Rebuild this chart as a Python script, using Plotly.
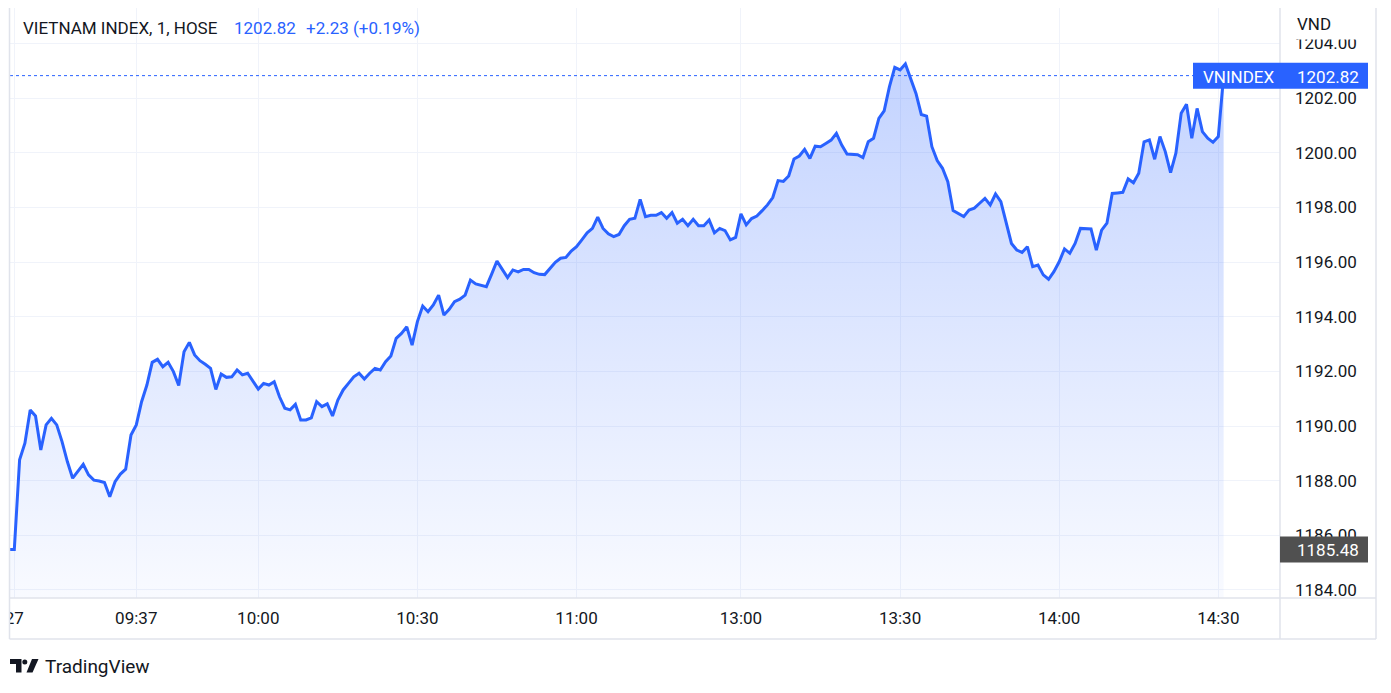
import plotly.graph_objects as go

# ---------------- data ----------------
title_text = "VIETNAM INDEX, 1, HOSE"
symbol = "VNINDEX"
currency = "VND"
last_value = 1202.82
change_text = "+2.23 (+0.19%)"
open_marker = 1185.48

bars = list(range(-2, 228))  # 1-minute bar index (0 = 09:15)
values = [
    1185.48, 1185.48, 1188.76, 1189.37, 1190.59, 1190.37, 1189.12, 1190.04, 1190.28, 1190.04,
    1189.43, 1188.70, 1188.09, 1188.33, 1188.60, 1188.21, 1188.02, 1187.99, 1187.93, 1187.41,
    1187.96, 1188.24, 1188.42, 1189.67, 1190.04, 1190.89, 1191.50, 1192.33, 1192.44, 1192.17,
    1192.33, 1191.99, 1191.48, 1192.72, 1193.06, 1192.60, 1192.39, 1192.26, 1192.11, 1191.34,
    1191.90, 1191.78, 1191.80, 1192.05, 1191.87, 1191.93, 1191.62, 1191.35, 1191.56, 1191.50,
    1191.62, 1191.07, 1190.65, 1190.59, 1190.79, 1190.22, 1190.22, 1190.30, 1190.89, 1190.71,
    1190.81, 1190.37, 1190.95, 1191.32, 1191.56, 1191.80, 1191.93, 1191.72, 1191.93, 1192.11,
    1192.05, 1192.35, 1192.56, 1193.21, 1193.39, 1193.63, 1192.96, 1193.82, 1194.39, 1194.18,
    1194.43, 1194.79, 1194.06, 1194.27, 1194.55, 1194.64, 1194.79, 1195.34, 1195.20, 1195.15,
    1195.10, 1195.56, 1196.04, 1195.73, 1195.43, 1195.71, 1195.64, 1195.73, 1195.73, 1195.61,
    1195.55, 1195.54, 1195.77, 1195.99, 1196.14, 1196.17, 1196.40, 1196.56, 1196.81, 1197.07,
    1197.23, 1197.64, 1197.23, 1197.03, 1196.93, 1197.01, 1197.33, 1197.56, 1197.60, 1198.29,
    1197.66, 1197.71, 1197.71, 1197.81, 1197.60, 1197.81, 1197.42, 1197.56, 1197.33, 1197.56,
    1197.33, 1197.33, 1197.54, 1197.07, 1197.23, 1197.15, 1196.81, 1196.90, 1197.76, 1197.36,
    1197.59, 1197.68, 1197.88, 1198.09, 1198.36, 1198.98, 1198.95, 1199.15, 1199.77, 1199.88,
    1200.12, 1199.79, 1200.24, 1200.22, 1200.34, 1200.46, 1200.71, 1200.28, 1199.95, 1199.94,
    1199.93, 1199.82, 1200.40, 1200.53, 1201.26, 1201.53, 1202.42, 1203.12, 1203.03, 1203.25,
    1202.72, 1202.17, 1201.40, 1201.34, 1200.22, 1199.71, 1199.43, 1198.94, 1197.88, 1197.78,
    1197.66, 1197.90, 1197.97, 1198.15, 1198.33, 1198.09, 1198.49, 1198.21, 1197.42, 1196.68,
    1196.44, 1196.35, 1196.56, 1195.83, 1195.89, 1195.53, 1195.37, 1195.65, 1196.01, 1196.48,
    1196.32, 1196.68, 1197.23, 1197.22, 1197.21, 1196.44, 1197.17, 1197.42, 1198.51, 1198.53,
    1198.55, 1199.04, 1198.90, 1199.25, 1200.40, 1200.47, 1199.76, 1200.59, 1200.04, 1199.27,
    1199.98, 1201.44, 1201.77, 1200.53, 1201.62, 1200.77, 1200.53, 1200.38, 1200.59, 1202.82,
]

tick_bars = [-1, 22, 45, 75, 105, 136, 166, 196, 226]
tick_labels = ["27", "09:37", "10:00", "10:30", "11:00", "13:00", "13:30", "14:00", "14:30"]
y_ticks = [1184, 1186, 1188, 1190, 1192, 1194, 1196, 1198, 1200, 1202, 1204]

# ---------------- layout geometry (screen pixels) ----------------
OFF = 8                      # page body margin
W, H = 1391 - OFF, 693 - OFF  # figure size
L, R, T, B = 10, 1280, 8, 598  # plot area in screen pixels
X_RANGE = [-1.81, 237.63]
Y_RANGE = [1183.707, 1205.295]
PX_PER_UNIT = (B - T) / (Y_RANGE[1] - Y_RANGE[0])

BLUE = "#2962FF"
TEXT = "#131722"
GRID = "#f0f3fa"
BORDER = "#e0e3eb"
FONT = "Roboto"


def px(x):
    return (x - L) / (R - L)


def py(y):
    return (B - y) / (B - T)


fig = go.Figure()
fig.add_trace(go.Scatter(
    x=bars, y=values, mode="lines",
    line=dict(color=BLUE, width=3),
    fill="tozeroy",
    fillgradient=dict(
        type="vertical", start=Y_RANGE[0], stop=max(values),
        colorscale=[[0, "rgba(41,98,255,0.03)"], [1, "rgba(41,98,255,0.28)"]],
    ),
    hoverinfo="skip", showlegend=False,
))

shapes = []
# price line (dotted) at last value
shapes.append(dict(type="line", xref="paper", yref="y", x0=0, x1=px(1193),
                   y0=last_value, y1=last_value, line=dict(color=BLUE, width=1, dash="dot"),
                   layer="above"))
# cover top of price scale (header zone)
shapes.append(dict(type="rect", xref="paper", yref="paper", x0=px(1281), x1=px(1375.5),
                   y0=py(39.5), y1=py(8), fillcolor="white", line=dict(width=0), layer="above"))
# cover left of time axis
shapes.append(dict(type="rect", xref="paper", yref="paper", x0=px(OFF), x1=px(9.5),
                   y0=py(640), y1=py(598), fillcolor="white", line=dict(width=0), layer="above"))
# frame lines
frame = [
    (9.5, 639, 1376, 639), (9.5, 8, 9.5, 639), (1376, 8, 1376, 639),
    (1280, 8, 1280, 639), (9.5, 598, 1376, 598),
]
for x0, y0, x1, y1 in frame:
    shapes.append(dict(type="line", xref="paper", yref="paper", x0=px(x0), x1=px(x1),
                       y0=py(y0), y1=py(y1), line=dict(color=BORDER, width=1.5), layer="above"))
# blue last-value label
half = 13 / PX_PER_UNIT
shapes.append(dict(type="rect", xref="paper", yref="y", x0=px(1193), x1=px(1368),
                   y0=last_value - half, y1=last_value + half, fillcolor=BLUE,
                   line=dict(width=0), layer="above"))
# grey marker label
shapes.append(dict(type="rect", xref="paper", yref="y", x0=px(1280), x1=px(1368),
                   y0=open_marker - half, y1=open_marker + half, fillcolor="#505050",
                   line=dict(width=0), layer="above"))
# TradingView logo (simple geometric glyph)
logo_paths = [
    "M {a},{b} L {c},{b} L {c},{d} L {e},{d} L {e},{f} L {a},{f} Z".format(
        a=px(10), b=py(659), c=px(21.5), d=py(672.5), e=px(16), f=py(664)),
    "M {a},{b} L {c},{b} L {d},{e} L {f},{e} Z".format(
        a=px(32), b=py(659), c=px(38.5), d=px(32.5), e=py(672.5), f=px(26.5)),
]
for p in logo_paths:
    shapes.append(dict(type="path", xref="paper", yref="paper", path=p,
                       fillcolor=TEXT, line=dict(width=0), layer="above"))
shapes.append(dict(type="circle", xref="paper", yref="paper", x0=px(22.3), x1=px(27.3),
                   y0=py(664.5), y1=py(659.5), fillcolor=TEXT, line=dict(width=0), layer="above"))

annotations = [
    dict(x=px(21), y=py(28), text=title_text, font=dict(size=17, color=TEXT, family=FONT)),
    dict(x=px(232), y=py(28), text=f"{last_value:.2f}", font=dict(size=17, color=BLUE, family=FONT)),
    dict(x=px(304), y=py(28), text=change_text, font=dict(size=17, color=BLUE, family=FONT)),
    dict(x=px(1295), y=py(24), text=currency, font=dict(size=17, color=TEXT, family=FONT)),
    dict(x=px(1201), y=py(76.5), text=symbol, font=dict(size=17, color="white", family=FONT)),
    dict(x=px(1295), y=py(76.5), text=f"{last_value:.2f}", font=dict(size=17, color="white", family=FONT)),
    dict(x=px(1295), y=py(549.5), text=f"{open_marker:.2f}", font=dict(size=17, color="white", family=FONT)),
    dict(x=px(43), y=py(666), text="TradingView", font=dict(size=19, color=TEXT, family=FONT)),
]
for a in annotations:
    a.update(xref="paper", yref="paper", xanchor="left", yanchor="middle", showarrow=False)

fig.update_layout(
    width=W, height=H, autosize=False,
    margin=dict(l=L - OFF, r=(W + OFF) - R, t=T - OFF, b=(H + OFF) - B, pad=0),
    paper_bgcolor="white", plot_bgcolor="white",
    font=dict(family=FONT, color=TEXT, size=17),
    shapes=shapes, annotations=annotations,
    showlegend=False,
    xaxis=dict(range=X_RANGE, tickvals=tick_bars, ticktext=tick_labels, showgrid=True,
               gridcolor=GRID, gridwidth=1, zeroline=False, showline=False, ticks="",
               tickfont=dict(size=17, color=TEXT, family=FONT), ticklabelstandoff=8,
               ticklabeloverflow="allow", automargin=False, fixedrange=True),
    yaxis=dict(range=Y_RANGE, side="right", tickvals=y_ticks, tickformat=".2f", showgrid=True,
               gridcolor=GRID, gridwidth=1, zeroline=False, showline=False, ticks="",
               tickfont=dict(size=17, color=TEXT, family=FONT), ticklabelstandoff=14,
               ticklabeloverflow="allow", automargin=False, fixedrange=True),
)

fig.write_html("out.html")
